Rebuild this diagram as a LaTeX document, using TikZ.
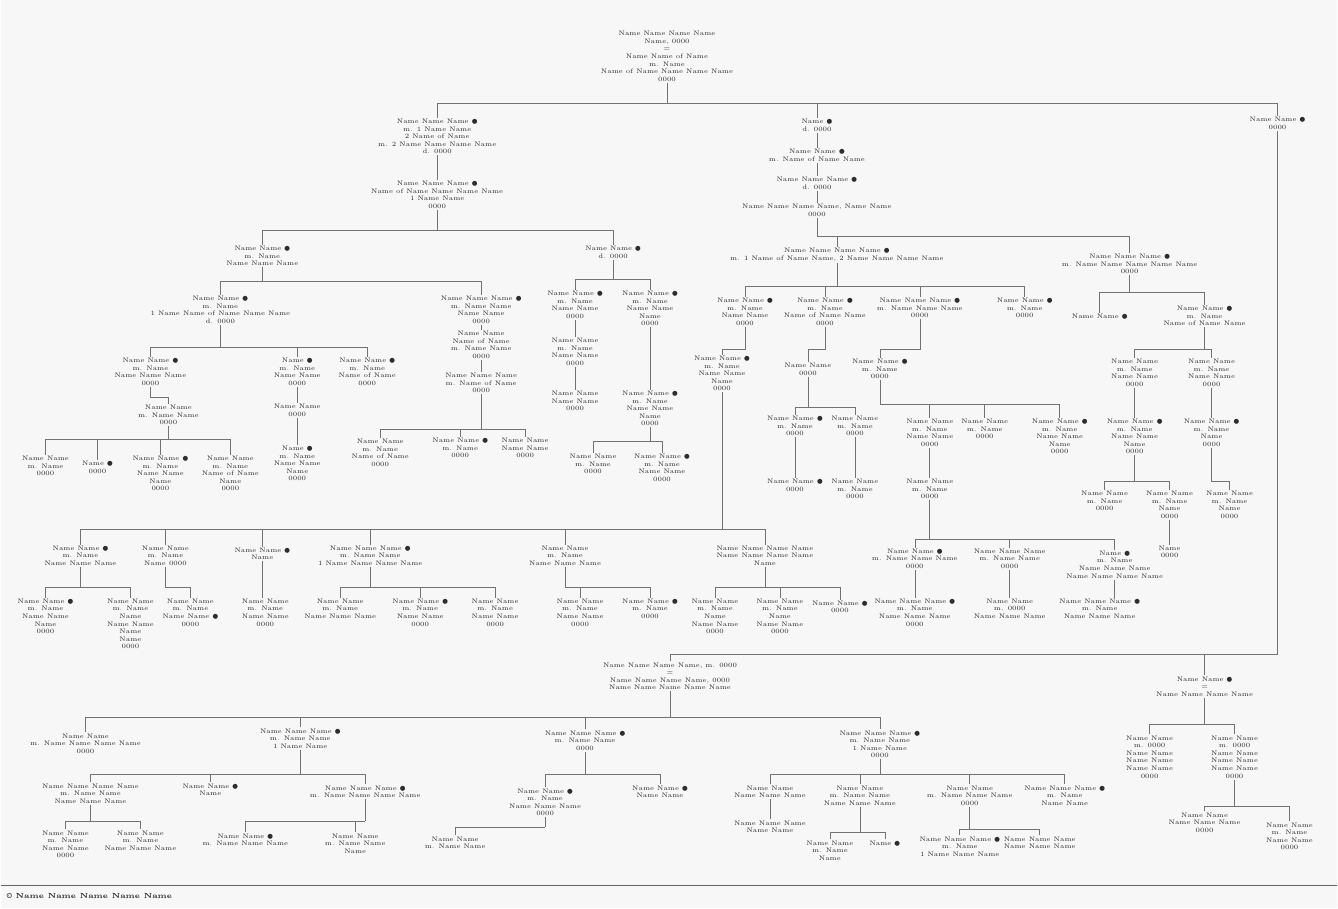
\documentclass[tikz,border=0pt]{standalone}
\usepackage{fontspec}
\usepackage{tikz}
\usetikzlibrary{positioning}
\newfontfamily\markfont{DejaVu Sans}
\newcommand{\dotmk}{{\markfont ●}}
\definecolor{paper}{RGB}{247,247,247}
\definecolor{ink}{RGB}{45,45,45}
% parent, bar coordinate, children
\newcommand{\famline}[3]{%
  \draw[link] (#1.south) -- (#1.south |- #2);
  \foreach \k in {#3} {\draw[link] (\k.north) |- (#1.south |- #2);}
}

\begin{document}
\begin{tikzpicture}[
  x=0.02cm, y=-0.02cm,
  person/.style={anchor=north,align=center,inner sep=0.6pt,text=ink,font=\fontsize{3.7}{4.3}\selectfont},
  link/.style={draw=black!55,line width=0.35pt},
]
\fill[paper] (0,0) rectangle (1338,909);

% bar levels
\foreach \r in {103,230,236,280,282,287,293,348,350,398,408,405,430,440,442,482,530,540,588,655,718,725,775,807,822,828,830,833}
  \coordinate (r\r) at (0,\r);

% --- top generations
\node[person] (t) at (667,30) {Name Name Name Name\\Name, 0000\\=\\Name Name of Name\\m. Name\\Name of Name Name Name Name\\0000};

\node[person] (a1) at (437,118) {Name Name Name \dotmk\\m. 1 Name Name\\2 Name of Name\\m. 2 Name Name Name Name\\d. 0000};
\node[person] (a2) at (437,180) {Name Name Name \dotmk\\Name of Name Name Name Name\\1 Name Name\\0000};
\node[person] (b1) at (817,118) {Name \dotmk\\d. 0000};
\node[person] (b2) at (817,148) {Name Name \dotmk\\m. Name of Name Name};
\node[person] (b3) at (817,176) {Name Name Name \dotmk\\d. 0000};
\node[person] (b4) at (817,203) {Name Name Name Name, Name Name\\0000};
\node[person] (c1) at (1278,116) {Name Name \dotmk\\0000};

\famline{t}{r103}{a1,b1,c1}
\draw[link] (a1.south) -- (a2.north);
\draw[link] (b1.south) -- (b2.north);
\draw[link] (b2.south) -- (b3.north);
\draw[link] (b3.south) -- (b4.north);

\node[person] (d) at (262,245) {Name Name \dotmk\\m. Name\\Name Name Name};
\node[person] (e) at (613,245) {Name Name \dotmk\\d. 0000};
\node[person] (f) at (837,247) {Name Name Name Name \dotmk\\m. 1 Name of Name Name, 2 Name Name Name Name};
\node[person] (g) at (1130,253) {Name Name Name \dotmk\\m. Name Name Name Name Name\\0000};
\famline{a2}{r230}{d,e}
\famline{b4}{r236}{f,g}

% --- left branch
\node[person] (d1) at (220,295) {Name Name \dotmk\\m. Name\\1 Name Name of Name Name Name\\d. 0000};
\node[person] (d2) at (481,295) {Name Name Name \dotmk\\m. Name Name\\Name Name\\0000};
\famline{d}{r282}{d1,d2}
\node[person] (d2b) at (481,330) {Name Name\\Name of Name\\m. Name Name\\0000};
\node[person] (d2c) at (481,372) {Name Name Name\\m. Name of Name\\0000};
\draw[link] (d2.south) -- (d2b.north);
\draw[link] (d2b.south) -- (d2c.north);
\node[person] (d2c1) at (380,438) {Name Name\\m. Name\\Name of Name\\0000};
\node[person] (d2c2) at (460,437) {Name Name \dotmk\\m. Name\\0000};
\node[person] (d2c3) at (525,437) {Name Name\\Name Name\\0000};
\famline{d2c}{r430}{d2c1,d2c2,d2c3}

\node[person] (d1a) at (150,357) {Name Name \dotmk\\m. Name\\Name Name Name\\0000};
\node[person] (d1b) at (297,357) {Name \dotmk\\m. Name\\Name Name\\0000};
\node[person] (d1c) at (367,357) {Name Name \dotmk\\m. Name\\Name of Name\\0000};
\famline{d1}{r348}{d1a,d1b,d1c}
\node[person] (d1a1) at (168,404) {Name Name\\m. Name Name\\0000};
\famline{d1a}{r398}{d1a1}
\node[person] (k1) at (45,455) {Name Name\\m. Name\\0000};
\node[person] (k2) at (97,460) {Name \dotmk\\0000};
\node[person] (k3) at (160,455) {Name Name \dotmk\\m. Name\\Name Name\\Name\\0000};
\node[person] (k4) at (230,455) {Name Name\\m. Name\\Name of Name\\Name\\0000};
\famline{d1a1}{r440}{k1,k2,k3,k4}
\node[person] (d1b1) at (297,403) {Name Name\\0000};
\node[person] (d1b2) at (297,445) {Name \dotmk\\m. Name\\Name Name\\Name\\0000};
\draw[link] (d1b.south) -- (d1b1.north);
\draw[link] (d1b1.south) -- (d1b2.north);

\node[person] (e1) at (575,290) {Name Name \dotmk\\m. Name\\Name Name\\0000};
\node[person] (e2) at (650,290) {Name Name \dotmk\\m. Name\\Name Name\\Name\\0000};
\famline{e}{r280}{e1,e2}
\node[person] (e1b) at (575,337) {Name Name\\m. Name\\Name Name\\0000};
\node[person] (e1c) at (575,390) {Name Name\\Name Name\\0000};
\draw[link] (e1.south) -- (e1b.north);
\draw[link] (e1b.south) -- (e1c.north);
\node[person] (e2b) at (650,390) {Name Name \dotmk\\m. Name\\Name Name\\Name\\0000};
\draw[link] (e2.south) -- (e2b.north);
\node[person] (e2b1) at (593,453) {Name Name\\m. Name\\0000};
\node[person] (e2b2) at (662,453) {Name Name \dotmk\\m. Name\\Name Name\\0000};
\famline{e2b}{r442}{e2b1,e2b2}

% --- right branch
\node[person] (f1) at (745,297) {Name Name \dotmk\\m. Name\\Name Name\\0000};
\node[person] (f2) at (825,297) {Name Name \dotmk\\m. Name\\Name of Name Name\\0000};
\node[person] (f3) at (920,297) {Name Name Name \dotmk\\m. Name Name Name\\0000};
\node[person] (f4) at (1025,297) {Name Name \dotmk\\m. Name\\0000};
\famline{f}{r287}{f1,f2,f3,f4}
\node[person] (f1b) at (722,355) {Name Name \dotmk\\m. Name\\Name Name\\Name\\0000};
\famline{f1}{r350}{f1b}
\node[person] (f2a) at (808,362) {Name Name\\0000};
\famline{f2}{r350}{f2a}
\node[person] (f2a1) at (795,415) {Name Name \dotmk\\m. Name\\0000};
\node[person] (f2a2) at (855,415) {Name Name\\m. Name\\0000};
\famline{f2a}{r408}{f2a1,f2a2}
\node[person] (f2a1a) at (795,478) {Name Name \dotmk\\0000};
\node[person] (f2a2a) at (855,478) {Name Name\\m. Name\\0000};
\draw[link] (f2a1.south) -- (f2a1a.north);
\draw[link] (f2a2.south) -- (f2a2a.north);
\node[person] (f3a) at (880,358) {Name Name \dotmk\\m. Name\\0000};
\famline{f3}{r350}{f3a}
\node[person] (f3a1) at (930,418) {Name Name\\m. Name\\Name Name\\0000};
\node[person] (f3a2) at (985,418) {Name Name\\m. Name\\0000};
\node[person] (f3a3) at (1060,418) {Name Name \dotmk\\m. Name\\Name Name\\Name\\0000};
\famline{f3a}{r405}{f3a1,f3a2,f3a3}
\node[person] (f3a1a) at (930,478) {Name Name\\m. Name\\0000};
\draw[link] (f3a1.south) -- (f3a1a.north);
\node[person] (p1) at (915,548) {Name Name \dotmk\\m. Name Name Name\\0000};
\node[person] (p2) at (1010,548) {Name Name Name\\m. Name Name\\0000};
\node[person] (p3) at (1115,550) {Name \dotmk\\m. Name\\Name Name Name\\Name Name Name Name};
\famline{f3a1a}{r540}{p1,p2,p3}
\node[person] (p1a) at (915,598) {Name Name Name \dotmk\\m. Name\\Name Name Name\\0000};
\node[person] (p2a) at (1010,598) {Name Name\\m. 0000\\Name Name Name};
\node[person] (p3a) at (1100,598) {Name Name Name \dotmk\\m. Name\\Name Name Name};
\draw[link] (p1.south) -- (p1.south |- p1a.north);
\draw[link] (p2.south) -- (p2.south |- p2a.north);
\draw[link] (p3.south) -- (p3.south |- p3a.north);

\node[person] (g1) at (1100,313) {Name Name \dotmk};
\node[person] (g2) at (1205,305) {Name Name \dotmk\\m. Name\\Name of Name Name};
\famline{g}{r293}{g1,g2}
\node[person] (g2a) at (1135,358) {Name Name\\m. Name\\Name Name\\0000};
\node[person] (g2b) at (1212,358) {Name Name\\m. Name\\Name Name\\0000};
\famline{g2}{r350}{g2a,g2b}
\node[person] (g2a1) at (1135,418) {Name Name \dotmk\\m. Name\\Name Name\\Name\\0000};
\node[person] (g2b1) at (1212,418) {Name Name \dotmk\\m. Name\\Name\\0000};
\draw[link] (g2a.south) -- (g2a1.north);
\draw[link] (g2b.south) -- (g2b1.north);
\node[person] (q1) at (1105,490) {Name Name\\m. Name\\0000};
\node[person] (q2) at (1170,490) {Name Name\\m. Name\\Name\\0000};
\famline{g2a1}{r482}{q1,q2}
\node[person] (q3) at (1230,490) {Name Name\\m. Name\\Name\\0000};
\famline{g2b1}{r482}{q3}
\node[person] (q2a) at (1170,545) {Name\\0000};
\draw[link] (q2.south) -- (q2a.north);

% --- middle row
\node[person] (h1) at (80,545) {Name Name \dotmk\\m. Name\\Name Name Name};
\node[person] (h2) at (165,545) {Name Name\\m. Name\\Name 0000};
\node[person] (h3) at (262,547) {Name Name \dotmk\\Name};
\node[person] (h4) at (370,545) {Name Name Name \dotmk\\m. Name Name\\1 Name Name Name Name};
\node[person] (h5) at (565,545) {Name Name\\m. Name\\Name Name Name};
\node[person] (h6) at (765,545) {Name Name Name Name\\Name Name Name Name\\Name};
\famline{f1b}{r530}{h1,h2,h3,h4,h5,h6}
\node[person] (h1a) at (45,598) {Name Name \dotmk\\m. Name\\Name Name\\Name\\0000};
\node[person] (h1b) at (130,598) {Name Name\\m. Name\\Name\\Name Name\\Name\\Name\\0000};
\famline{h1}{r588}{h1a,h1b}
\node[person] (h2a) at (190,598) {Name Name\\m. Name\\Name Name \dotmk\\0000};
\famline{h2}{r588}{h2a}
\node[person] (h3a) at (265,598) {Name Name\\m. Name\\Name Name\\0000};
\draw[link] (h3.south) -- (h3.south |- h3a.north);
\node[person] (h4a) at (340,598) {Name Name\\m. Name\\Name Name Name};
\node[person] (h4b) at (420,598) {Name Name \dotmk\\m. Name\\Name Name\\0000};
\node[person] (h4c) at (495,598) {Name Name\\m. Name\\Name Name\\0000};
\famline{h4}{r588}{h4a,h4b,h4c}
\node[person] (h5a) at (580,598) {Name Name\\m. Name\\Name Name\\0000};
\node[person] (h5b) at (650,598) {Name Name \dotmk\\m. Name\\0000};
\famline{h5}{r588}{h5a,h5b}
\node[person] (h6a) at (715,598) {Name Name\\m. Name\\Name\\Name Name\\0000};
\node[person] (h6b) at (780,598) {Name Name\\m. Name\\Name\\Name Name\\0000};
\node[person] (h6c) at (840,600) {Name Name \dotmk\\0000};
\famline{h6}{r588}{h6a,h6b,h6c}

% --- lower part
\node[person] (m) at (670,662) {Name Name Name Name, m. 0000\\=\\Name Name Name Name, 0000\\Name Name Name Name Name};
\node[person] (n) at (1205,676) {Name Name \dotmk\\=\\Name Name Name Name};
\famline{c1}{r655}{m,n}

\node[person] (m1) at (85,733) {Name Name\\m. Name Name Name Name\\0000};
\node[person] (m2) at (300,728) {Name Name Name \dotmk\\m. Name Name\\1 Name Name};
\node[person] (m3) at (585,730) {Name Name Name \dotmk\\m. Name Name\\0000};
\node[person] (m4) at (880,730) {Name Name Name \dotmk\\m. Name Name\\1 Name Name\\0000};
\famline{m}{r718}{m1,m2,m3,m4}

\node[person] (m2a) at (90,783) {Name Name Name Name\\m. Name Name\\Name Name Name};
\node[person] (m2b) at (210,783) {Name Name \dotmk\\Name};
\node[person] (m2c) at (365,785) {Name Name Name \dotmk\\m. Name Name Name Name};
\famline{m2}{r775}{m2a,m2b,m2c}
\node[person] (s1) at (65,830) {Name Name\\m. Name\\Name Name\\0000};
\node[person] (s2) at (140,830) {Name Name\\m. Name\\Name Name Name};
\famline{m2a}{r822}{s1,s2}
\node[person] (s3) at (245,833) {Name Name \dotmk\\m. Name Name Name};
\node[person] (s4) at (355,833) {Name Name\\m. Name Name\\Name};
\famline{m2c}{r822}{s3,s4}

\node[person] (m3a) at (545,788) {Name Name \dotmk\\m. Name\\Name Name Name\\0000};
\node[person] (m3b) at (660,785) {Name Name \dotmk\\Name Name};
\famline{m3}{r775}{m3a,m3b}
\node[person] (s5) at (455,836) {Name Name\\m. Name Name};
\famline{m3a}{r828}{s5}

\node[person] (m4a) at (770,785) {Name Name\\Name Name Name};
\node[person] (m4b) at (860,785) {Name Name\\m. Name Name\\Name Name Name};
\node[person] (m4c) at (970,785) {Name Name\\m. Name Name Name\\0000};
\node[person] (m4d) at (1065,785) {Name Name Name \dotmk\\m. Name\\Name Name};
\famline{m4}{r775}{m4a,m4b,m4c,m4d}
\node[person] (s6) at (770,820) {Name Name Name\\Name Name};
\draw[link] (m4a.south) -- (s6.north);
\node[person] (s7) at (830,840) {Name Name\\m. Name\\Name};
\node[person] (s8) at (885,840) {Name \dotmk};
\famline{m4b}{r833}{s7,s8}
\node[person] (s9) at (960,836) {Name Name Name \dotmk\\m. Name\\1 Name Name Name};
\node[person] (s10) at (1040,836) {Name Name Name\\Name Name Name};
\famline{m4c}{r830}{s9,s10}

\node[person] (n1) at (1150,735) {Name Name\\m. 0000\\Name Name\\Name Name\\Name Name\\0000};
\node[person] (n2) at (1235,735) {Name Name\\m. 0000\\Name Name\\Name Name\\Name Name\\0000};
\famline{n}{r725}{n1,n2}
\node[person] (s11) at (1205,812) {Name Name\\Name Name Name\\0000};
\node[person] (s12) at (1290,822) {Name Name\\m. Name\\Name Name\\0000};
\famline{n2}{r807}{s11,s12}

% footer
\coordinate (fl) at (0,886);
\coordinate (fr) at (1338,886);
\draw[black!60,line width=0.6pt] (fl) -- (fr);
\node[anchor=west,inner sep=0pt,text=ink,font=\fontsize{4.2}{5}\selectfont\bfseries] (src) at (6,897) {© Name Name Name Name Name};
\end{tikzpicture}
\end{document}
